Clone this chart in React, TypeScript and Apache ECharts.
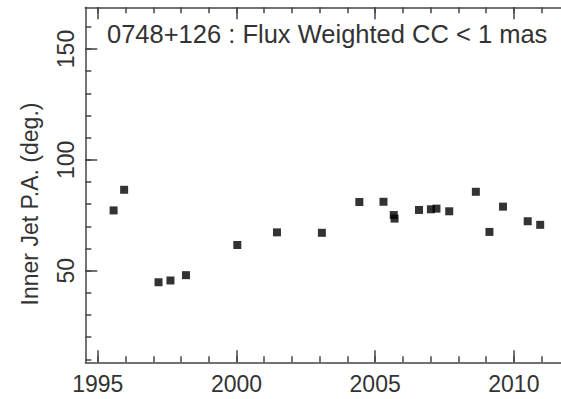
import React, { useEffect, useRef } from "react";
import * as echarts from "echarts";

const years = [
  1995.57, 1995.95, 1997.19, 1997.62, 1998.18, 2000.03, 2001.46, 2003.08,
  2004.43, 2005.3, 2005.67, 2005.7, 2006.58, 2007.01, 2007.21, 2007.67,
  2008.63, 2009.12, 2009.61, 2010.5, 2010.95,
];
const innerJetPA = [
  77.2, 86.5, 44.8, 45.6, 48.0, 61.6, 67.3, 67.1, 81.0, 81.1, 75.1, 73.5,
  77.4, 77.7, 78.0, 76.8, 85.6, 67.5, 78.9, 72.3, 70.7,
];
const xMajorTicks = [1995, 2000, 2005, 2010];
const xMinorTicks = [1995, 1996, 1997, 1998, 1999, 2000, 2001, 2002, 2003, 2004, 2005, 2006, 2007, 2008, 2009, 2010, 2011];
const yMajorTicks = [50, 100, 150];
const yMinorTicks = [10, 20, 30, 40, 50, 60, 70, 80, 90, 100, 110, 120, 130, 140, 150, 160];
const titleText = "0748+126 : Flux Weighted CC < 1 mas";
const yTitle = "Inner Jet P.A. (deg.)";

const FONT = "'Liberation Sans', Arial, sans-serif";
const INK = "#333333";
const LINE = "#444444";
const X_MIN = 1994.55;
const X_MAX = 2011.7;
const Y_MIN = 8.7;
const Y_MAX = 168.8;

export default function App() {
  const ref = useRef<HTMLDivElement>(null);
  useEffect(() => {
    if (!ref.current) return;
    const chart = echarts.init(ref.current, null, { renderer: "svg" });
    const xBase = (position: "top" | "bottom", ticks: number[], len: number, showLine: boolean, showLabel: boolean) => ({
      type: "value",
      gridIndex: 0,
      position,
      min: X_MIN,
      max: X_MAX,
      axisLine: { show: showLine, onZero: false, lineStyle: { color: LINE, width: 1.5 } },
      axisTick: { show: true, inside: true, length: len, customValues: ticks, lineStyle: { color: LINE, width: 1.5 } },
      axisLabel: showLabel
        ? {
            show: true,
            customValues: xMajorTicks,
            formatter: (v: number) => String(Math.round(v)),
            fontSize: 23,
            fontFamily: FONT,
            color: INK,
            margin: 10,
          }
        : { show: false },
      splitLine: { show: false },
    });
    const yBase = (ticks: number[], len: number, showLine: boolean, showLabel: boolean) => ({
      type: "value",
      gridIndex: 0,
      position: "left",
      min: Y_MIN,
      max: Y_MAX,
      axisLine: { show: showLine, onZero: false, lineStyle: { color: LINE, width: 1.5 } },
      axisTick: { show: true, inside: true, length: len, customValues: ticks, lineStyle: { color: LINE, width: 1.5 } },
      axisLabel: showLabel
        ? {
            show: true,
            customValues: yMajorTicks,
            formatter: (v: number) => String(Math.round(v)),
            rotate: 90,
            fontSize: 23,
            fontFamily: FONT,
            color: INK,
            margin: 8,
          }
        : { show: false },
      splitLine: { show: false },
    });
    chart.setOption({
      animation: false,
      backgroundColor: "#ffffff",
      grid: { left: 85.3, top: 7.3, bottom: 36.7, right: -5, containLabel: false },
      xAxis: [
        xBase("bottom", xMajorTicks, 12, true, true),
        xBase("bottom", xMinorTicks, 6, false, false),
        xBase("top", xMajorTicks, 12, true, false),
        xBase("top", xMinorTicks, 6, false, false),
      ],
      yAxis: [yBase(yMajorTicks, 12, true, true), yBase(yMinorTicks, 6, false, false)],
      graphic: [
        {
          type: "text",
          left: 107,
          top: 21,
          style: { text: titleText, font: `25.5px ${FONT}`, fill: INK },
        },
        {
          type: "text",
          x: 30,
          y: 204,
          rotation: Math.PI / 2,
          style: { text: yTitle, font: `23px ${FONT}`, fill: INK, align: "center", verticalAlign: "middle" },
        },
      ],
      series: [
        {
          type: "scatter",
          xAxisIndex: 0,
          yAxisIndex: 0,
          symbol: "rect",
          symbolSize: 8,
          itemStyle: { color: "#000000" },
          data: years.map((y, i) => [y, innerJetPA[i]]),
        },
      ],
    });
    return () => chart.dispose();
  }, []);
  return <div ref={ref} style={{ position: "absolute", left: 0, top: 0, width: 561, height: 399 }} />;
}
